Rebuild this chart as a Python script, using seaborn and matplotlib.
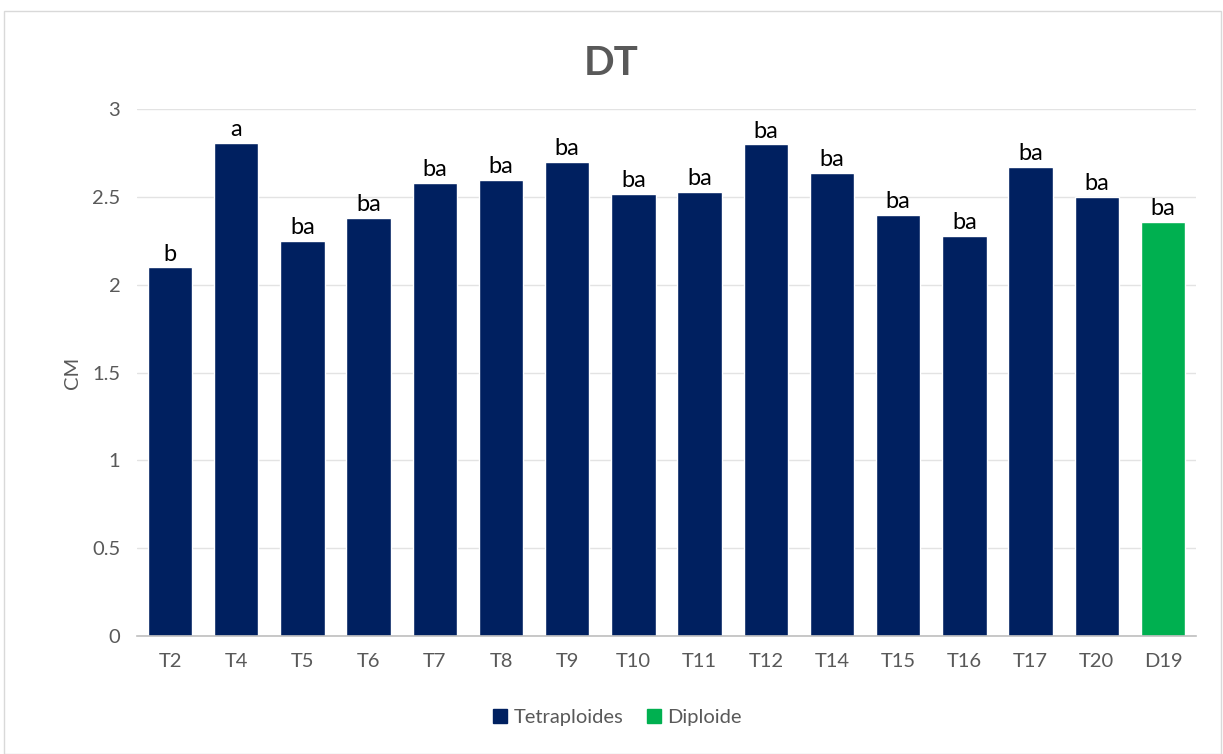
import matplotlib.pyplot as plt
import matplotlib.patches as mpatches
import pandas as pd
import seaborn as sns

categories = ["T2", "T4", "T5", "T6", "T7", "T8", "T9", "T10", "T11", "T12",
              "T14", "T15", "T16", "T17", "T20", "D19"]
values = [2.10, 2.81, 2.25, 2.38, 2.58, 2.60, 2.70, 2.52, 2.53, 2.80,
          2.64, 2.40, 2.28, 2.67, 2.50, 2.36]
letters = ["b", "a", "ba", "ba", "ba", "ba", "ba", "ba", "ba", "ba",
           "ba", "ba", "ba", "ba", "ba", "ba"]
groups = ["Tetraploides"] * 15 + ["Diploide"]
colors = {"Tetraploides": "#002060", "Diploide": "#00B050"}

df = pd.DataFrame({"cat": categories, "cm": values, "group": groups})

sns.set_style("white")
plt.rcParams["font.family"] = ["Lato", "DejaVu Sans"]

fig = plt.figure(figsize=(12.23, 7.54), dpi=100)
ax = fig.add_axes([0.112, 0.1565, 0.866, 0.6985])

sns.barplot(data=df, x="cat", y="cm", hue="group", palette=colors,
            dodge=False, width=0.67, saturation=1, legend=False, ax=ax)

for i, (v, t) in enumerate(zip(values, letters)):
    ax.annotate(t, (i, v), xytext=(0, 2), textcoords="offset points",
                ha="center", va="bottom", fontsize=17, color="black")

ax.set_ylim(0, 3)
ax.set_xlim(-0.5, len(categories) - 0.5)
ax.set_yticks([0, 0.5, 1, 1.5, 2, 2.5, 3])
ax.set_yticklabels(["0", "0.5", "1", "1.5", "2", "2.5", "3"])
ax.yaxis.grid(True, color="#e3e3e3", linewidth=1)
ax.set_axisbelow(True)
for s in ["top", "right", "left"]:
    ax.spines[s].set_visible(False)
ax.spines["bottom"].set_color("#bfbfbf")
ax.spines["bottom"].set_linewidth(1.2)
ax.tick_params(axis="both", length=0, labelsize=14.5, colors="#595959", pad=12)
ax.set_xlabel("")
ax.set_ylabel("CM", fontsize=14.5, color="#595959", labelpad=8)

fig.text(0.5, 0.916, "DT", ha="center", va="center", fontsize=29,
         fontweight="bold", color="#595959")

handles = [mpatches.Patch(color=colors[g], label=g) for g in ["Tetraploides", "Diploide"]]
fig.legend(handles=handles, loc="center", bbox_to_anchor=(0.505, 0.048), ncol=2,
           frameon=False, fontsize=14.5, handlelength=0.7, handleheight=0.7,
           handletextpad=0.3, columnspacing=1.2)
for t in fig.legends[0].get_texts():
    t.set_color("#595959")

fig.patches.append(mpatches.Rectangle((0.003, 0.0), 0.995, 0.985, transform=fig.transFigure,
                                      fill=False, edgecolor="#d9d9d9", linewidth=1))

fig.savefig("out.png", dpi=100)
